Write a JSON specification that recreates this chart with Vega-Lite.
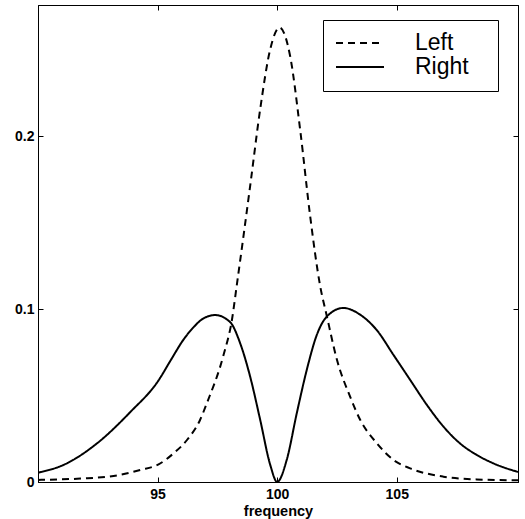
{
  "$schema": "https://vega.github.io/schema/vega-lite/v6.json",
  "width": 480,
  "height": 477,
  "autosize": {"type": "none"},
  "padding": {"left": 38, "top": 5, "right": 7, "bottom": 37},
  "background": "white",
  "config": {
    "view": {"stroke": "black", "strokeWidth": 1},
    "font": "Liberation Sans",
    "axis": {
      "grid": false,
      "domainColor": "black",
      "tickColor": "black",
      "tickSize": -5,
      "labelFont": "Liberation Sans",
      "labelFontWeight": "bold",
      "labelFontSize": 14,
      "labelColor": "black",
      "titleFont": "Liberation Sans",
      "titleFontWeight": "bold",
      "titleFontSize": 14.5,
      "titleColor": "black"
    }
  },
  "data": {
    "values": [
      {"f": 90, "v": 0.0012, "s": "Left"},
      {"f": 91.77, "v": 0.002, "s": "Left"},
      {"f": 93.16, "v": 0.0035, "s": "Left"},
      {"f": 94.28, "v": 0.007, "s": "Left"},
      {"f": 95.04, "v": 0.0102, "s": "Left"},
      {"f": 95.67, "v": 0.0166, "s": "Left"},
      {"f": 96.23, "v": 0.0243, "s": "Left"},
      {"f": 96.78, "v": 0.036, "s": "Left"},
      {"f": 97.06, "v": 0.0456, "s": "Left"},
      {"f": 97.76, "v": 0.0736, "s": "Left"},
      {"f": 98.11, "v": 0.0939, "s": "Left"},
      {"f": 98.31, "v": 0.1137, "s": "Left"},
      {"f": 98.87, "v": 0.1712, "s": "Left"},
      {"f": 99.29, "v": 0.2157, "s": "Left"},
      {"f": 99.71, "v": 0.2504, "s": "Left"},
      {"f": 100.1, "v": 0.263, "s": "Left"},
      {"f": 100.54, "v": 0.2466, "s": "Left"},
      {"f": 100.96, "v": 0.204, "s": "Left"},
      {"f": 101.38, "v": 0.1538, "s": "Left"},
      {"f": 101.79, "v": 0.114, "s": "Left"},
      {"f": 102.08, "v": 0.0958, "s": "Left"},
      {"f": 102.5, "v": 0.0707, "s": "Left"},
      {"f": 103.05, "v": 0.0494, "s": "Left"},
      {"f": 103.47, "v": 0.036, "s": "Left"},
      {"f": 104.17, "v": 0.0224, "s": "Left"},
      {"f": 104.86, "v": 0.0128, "s": "Left"},
      {"f": 105.56, "v": 0.0079, "s": "Left"},
      {"f": 106.95, "v": 0.0031, "s": "Left"},
      {"f": 108.34, "v": 0.0015, "s": "Left"},
      {"f": 110.07, "v": 0.001, "s": "Left"},
      {"f": 90, "v": 0.0054, "s": "Right"},
      {"f": 91.07, "v": 0.0099, "s": "Right"},
      {"f": 92.47, "v": 0.0224, "s": "Right"},
      {"f": 93.86, "v": 0.0405, "s": "Right"},
      {"f": 95.04, "v": 0.0588, "s": "Right"},
      {"f": 95.53, "v": 0.0700, "s": "Right"},
      {"f": 96.09, "v": 0.0825, "s": "Right"},
      {"f": 96.5, "v": 0.0895, "s": "Right"},
      {"f": 96.9, "v": 0.0945, "s": "Right"},
      {"f": 97.41, "v": 0.0966, "s": "Right"},
      {"f": 98.04, "v": 0.0924, "s": "Right"},
      {"f": 98.45, "v": 0.0804, "s": "Right"},
      {"f": 98.87, "v": 0.061, "s": "Right"},
      {"f": 99.29, "v": 0.036, "s": "Right"},
      {"f": 99.71, "v": 0.0099, "s": "Right"},
      {"f": 100.0, "v": 0.0, "s": "Right"},
      {"f": 100.4, "v": 0.0128, "s": "Right"},
      {"f": 100.82, "v": 0.0398, "s": "Right"},
      {"f": 101.24, "v": 0.065, "s": "Right"},
      {"f": 101.66, "v": 0.0852, "s": "Right"},
      {"f": 102.08, "v": 0.0958, "s": "Right"},
      {"f": 102.77, "v": 0.1007, "s": "Right"},
      {"f": 103.47, "v": 0.0968, "s": "Right"},
      {"f": 104.17, "v": 0.0878, "s": "Right"},
      {"f": 104.86, "v": 0.0736, "s": "Right"},
      {"f": 105.56, "v": 0.0591, "s": "Right"},
      {"f": 106.26, "v": 0.0446, "s": "Right"},
      {"f": 106.95, "v": 0.0321, "s": "Right"},
      {"f": 107.64, "v": 0.0224, "s": "Right"},
      {"f": 108.34, "v": 0.0157, "s": "Right"},
      {"f": 109.04, "v": 0.0108, "s": "Right"},
      {"f": 110.07, "v": 0.0058, "s": "Right"}
    ]
  },
  "layer": [
    {
      "mark": {"type": "line", "interpolate": "monotone", "strokeWidth": 2, "color": "black", "clip": true},
      "encoding": {
        "x": {
          "field": "f", "type": "quantitative",
          "scale": {"domain": [90, 110.07], "nice": false, "zero": false},
          "axis": {"values": [95, 100, 105], "title": "frequency", "labelPadding": 10, "titlePadding": 3}
        },
        "y": {
          "field": "v", "type": "quantitative",
          "scale": {"domain": [0, 0.276], "nice": false},
          "axis": {"values": [0, 0.1, 0.2], "format": "~g", "title": null, "labelPadding": 9}
        },
        "strokeDash": {
          "field": "s", "type": "nominal",
          "scale": {"domain": ["Left", "Right"], "range": [[7, 5], [1, 0]]},
          "legend": {
            "title": null,
            "orient": "none",
            "legendX": 285,
            "legendY": 15,
            "symbolType": "stroke",
            "symbolSize": 2304,
            "symbolStrokeWidth": 2,
            "symbolStrokeColor": "black",
            "clipHeight": 22,
            "labelFont": "Liberation Sans",
            "labelFontSize": 23,
            "labelColor": "black",
            "labelOffset": 30,
            "labelExpr": "datum.label + '\u2800'",
            "padding": 12,
            "rowPadding": 1,
            "strokeColor": "black",
            "fillColor": "white"
          }
        }
      }
    },
    {
      "mark": {"type": "line", "opacity": 0},
      "encoding": {
        "x": {
          "field": "f", "type": "quantitative",
          "axis": {"orient": "top", "values": [95, 100, 105], "labels": false, "title": null}
        },
        "y": {
          "field": "v", "type": "quantitative",
          "axis": {"orient": "right", "values": [0, 0.1, 0.2], "labels": false, "title": null}
        },
        "detail": {"field": "s"}
      }
    }
  ],
  "resolve": {"axis": {"x": "independent", "y": "independent"}}
}
